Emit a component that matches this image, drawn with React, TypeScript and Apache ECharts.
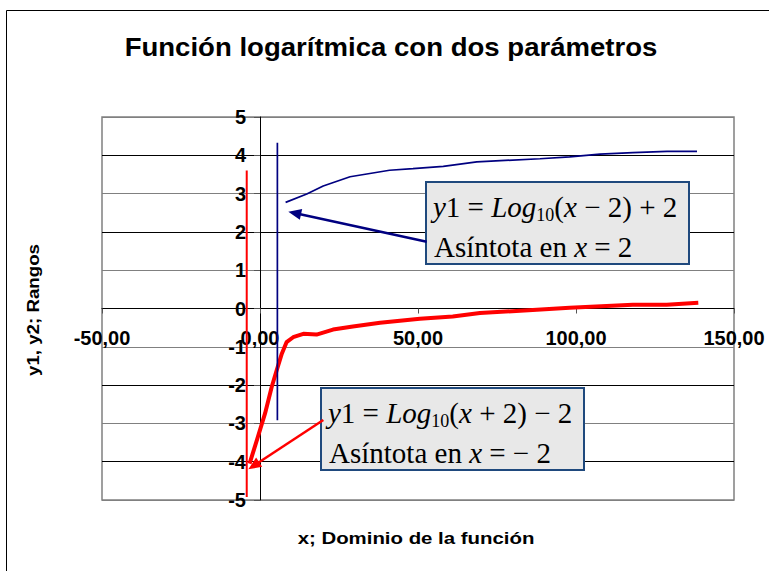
import React, { useEffect, useRef } from "react";
import * as echarts from "echarts";

// ---- data ----
const y1X = [8.1, 14.8, 20, 28.5, 41, 48.4, 58, 68.6, 88.6, 98, 107.6, 118, 128.8, 138.3];
const y1Y = [2.77, 2.99, 3.2, 3.44, 3.61, 3.65, 3.71, 3.83, 3.91, 3.96, 4.03, 4.07, 4.1, 4.1];

const y2X = [-3.3, -1.6, 1.6, 3.7, 5.3, 6.9, 8.4, 10.5, 13.7, 17.9, 23.1, 29.4, 38, 50.6, 61, 69.6, 87.6, 98, 118, 128.7, 138.7];
const y2Y = [-4.05, -3.6, -2.74, -2.05, -1.61, -1.18, -0.88, -0.75, -0.66, -0.68, -0.55, -0.47, -0.37, -0.27, -0.21, -0.12, -0.03, 0.02, 0.1, 0.1, 0.15];

const asym1X = [5.5, 5.5];
const asym1Y = [4.33, -2.92];
const asym2X = [-4.2, -4.2];
const asym2Y = [3.6, -4.92];

const xMin = -50;
const xMax = 150;
const xStep = 50;
const yMin = -5;
const yMax = 5;
const yStep = 1;

const titleText = "Función logarítmica con dos parámetros";
const xName = "x; Dominio de la función";
const yName = "y1, y2; Rangos";

const zip = (xs: number[], ys: number[]) => xs.map((x, i) => [x, ys[i]]);

const NAVY = "#000080";
const RED = "#ff0000";
const SANS = "'Liberation Sans', Arial, sans-serif";
const SERIF = "'Liberation Serif', 'Times New Roman', serif";

// grid geometry
const W = 769;
const H = 571;
const GL = 102;
const GR = 35;
const GT = 117;
const GB = 71;
const gw = W - GL - GR;
const gh = H - GT - GB;
const xZeroOffset = -((0 - xMin) / (xMax - xMin)) * gw; // move y axis to x = 0
const yZeroOffset = -((0 - yMin) / (yMax - yMin)) * gh; // move x axis to y = 0

function arrow(x1: number, y1: number, x2: number, y2: number, color: string, width: number) {
  const dx = x2 - x1;
  const dy = y2 - y1;
  const len = Math.hypot(dx, dy);
  const ux = dx / len;
  const uy = dy / len;
  const L = 13;
  const Wd = 5.5;
  const bx = x2 - ux * L;
  const by = y2 - uy * L;
  const px = -uy;
  const py = ux;
  return [
    {
      type: "line",
      z: 10,
      shape: { x1, y1, x2: bx + ux * 2, y2: by + uy * 2 },
      style: { stroke: color, lineWidth: width },
    },
    {
      type: "polygon",
      z: 10,
      shape: { points: [[x2, y2], [bx + px * Wd, by + py * Wd], [bx - px * Wd, by - py * Wd]] },
      style: { fill: color },
    },
  ];
}

const richStyles = {
  n: { fontFamily: SERIF, fontSize: 29, lineHeight: 34, fill: "#000" },
  i: { fontFamily: SERIF, fontSize: 29, lineHeight: 34, fontStyle: "italic", fill: "#000" },
  s: { fontFamily: SERIF, fontSize: 18, lineHeight: 22, verticalAlign: "bottom", fill: "#000" },
};

function box(left: number, top: number, line1: string, line2: string) {
  return [
    {
      type: "rect",
      z: 9,
      shape: { x: left, y: top, width: 263, height: 82 },
      style: { fill: "#e8e8e8", stroke: "#1f497d", lineWidth: 2 },
    },
    {
      type: "text",
      z: 11,
      x: left + 7,
      y: top + 8,
      style: {
        text: line1,
        rich: richStyles,
        align: "left",
        textAlign: "left",
        verticalAlign: "top",
        textVerticalAlign: "top",
        fill: "#000",
      },
    },
    {
      type: "text",
      z: 11,
      x: left + 8,
      y: top + 48,
      style: {
        text: line2,
        rich: richStyles,
        align: "left",
        textAlign: "left",
        verticalAlign: "top",
        textVerticalAlign: "top",
        fill: "#000",
      },
    },
  ];
}

const fmtX = (v: number) => v.toFixed(2).replace(".", ",");

export default function App() {
  const ref = useRef<HTMLDivElement>(null);

  useEffect(() => {
    if (!ref.current) return;
    const chart = echarts.init(ref.current, null, { renderer: "svg" });
    const option: any = {
      animation: false,
      backgroundColor: "#ffffff",
      grid: {
        left: GL,
        right: GR,
        top: GT,
        bottom: GB,
        show: true,
        borderColor: "#808080",
        borderWidth: 1.5,
        backgroundColor: "transparent",
      },
      xAxis: {
        type: "value",
        position: "bottom",
        offset: yZeroOffset,
        min: xMin,
        max: xMax,
        interval: xStep,
        axisLine: { show: true, onZero: false, lineStyle: { color: "#000", width: 1 } },
        axisTick: { show: true, inside: false, length: 5, lineStyle: { color: "#555" } },
        axisLabel: {
          formatter: fmtX,
          fontFamily: SANS,
          fontWeight: "bold",
          fontSize: 20,
          color: "#000",
          margin: 19,
        },
        splitLine: { show: false },
      },
      yAxis: {
        type: "value",
        position: "left",
        offset: xZeroOffset,
        min: yMin,
        max: yMax,
        interval: yStep,
        axisLine: { show: true, onZero: false, lineStyle: { color: "#000", width: 1 } },
        axisTick: { show: true, inside: false, length: 6, lineStyle: { color: "#555" } },
        axisLabel: {
          fontFamily: SANS,
          fontWeight: "bold",
          fontSize: 20,
          color: "#000",
          margin: 14,
        },
        splitLine: {
          show: true,
          lineStyle: { color: ["#808080", "#000000"], width: 1 },
        },
      },
      series: [
        {
          name: "asymptote y2",
          type: "line",
          data: zip(asym2X, asym2Y),
          showSymbol: false,
          symbol: "none",
          lineStyle: { color: RED, width: 2 },
          z: 2,
        },
        {
          name: "y2",
          type: "line",
          data: zip(y2X, y2Y),
          showSymbol: false,
          symbol: "none",
          lineStyle: { color: RED, width: 4 },
          z: 3,
        },
        {
          name: "asymptote y1",
          type: "line",
          data: zip(asym1X, asym1Y),
          showSymbol: false,
          symbol: "none",
          lineStyle: { color: NAVY, width: 1.7 },
          z: 4,
        },
        {
          name: "y1",
          type: "line",
          data: zip(y1X, y1Y),
          showSymbol: false,
          symbol: "none",
          lineStyle: { color: NAVY, width: 1.7 },
          z: 4,
        },
      ],
      graphic: [
        {
          type: "rect",
          z: -10,
          silent: true,
          shape: { x: 6.5, y: 10.5, width: 800, height: 600 },
          style: { fill: "none", stroke: "#000", lineWidth: 1 },
        },
        {
          type: "text",
          x: 391,
          y: 47,
          scaleX: 1.06,
          style: {
            text: titleText,
            fontFamily: SANS,
            fontWeight: "bold",
            fontSize: 26,
            fill: "#000",
            align: "center",
            textAlign: "center",
            verticalAlign: "middle",
            textVerticalAlign: "middle",
          },
        },
        {
          type: "text",
          x: 416,
          y: 538,
          scaleX: 1.2,
          style: {
            text: xName,
            fontFamily: SANS,
            fontWeight: "bold",
            fontSize: 17,
            fill: "#000",
            align: "center",
            textAlign: "center",
            verticalAlign: "middle",
            textVerticalAlign: "middle",
          },
        },
        {
          type: "text",
          x: 33,
          y: 310,
          rotation: Math.PI / 2,
          scaleX: 1.1,
          style: {
            text: yName,
            fontFamily: SANS,
            fontWeight: "bold",
            fontSize: 17,
            fill: "#000",
            align: "center",
            textAlign: "center",
            verticalAlign: "middle",
            textVerticalAlign: "middle",
          },
        },
        ...box(426, 182, "{i|y}{n|1 = }{i|Log}{s|10}{n|(}{i|x}{n| − 2) + 2}", "{n|Asíntota en }{i|x}{n| = 2}"),
        ...box(321, 388, "{i|y}{n|1 = }{i|Log}{s|10}{n|(}{i|x}{n| + 2) − 2}", "{n|Asíntota en }{i|x}{n| = − 2}"),
        ...arrow(426.7, 241.7, 288.3, 211.7, NAVY, 2.5),
        ...arrow(323.3, 420, 248.3, 469.3, RED, 2.5),
      ],
    };
    chart.setOption(option);
    return () => chart.dispose();
  }, []);

  return (
    <div
      ref={ref}
      style={{ position: "fixed", left: 0, top: 0, width: W, height: H, background: "#fff" }}
    />
  );
}
